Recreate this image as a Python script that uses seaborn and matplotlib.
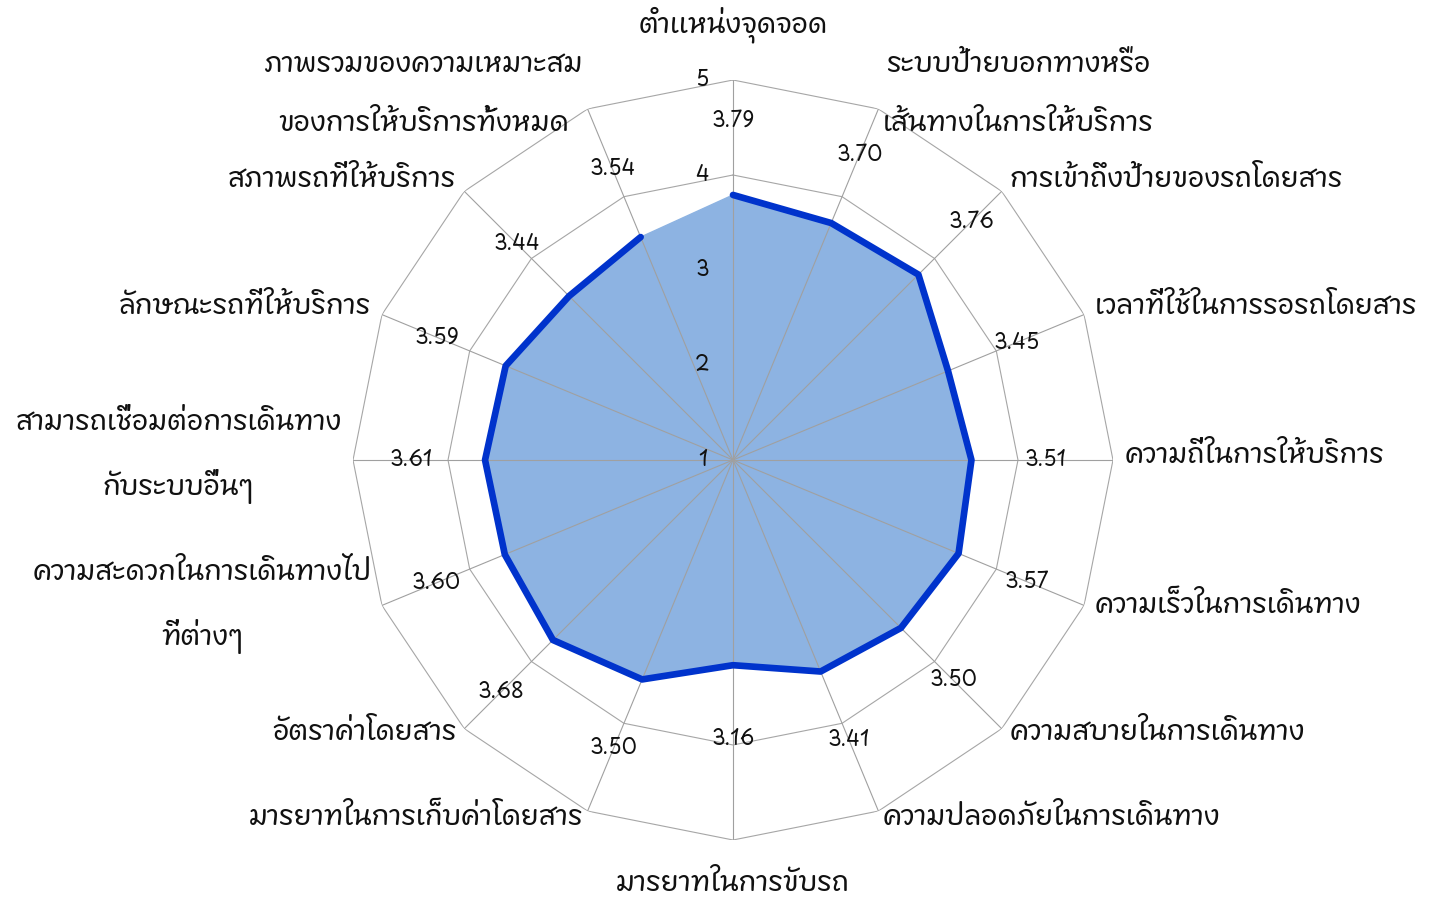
import numpy as np
import matplotlib
matplotlib.use("Agg")
import matplotlib.pyplot as plt
from matplotlib import font_manager
from matplotlib.ft2font import FT2Font
import seaborn as sns

categories = [
    "ตำแหน่งจุดจอด",
    "ระบบป้ายบอกทางหรือ\nเส้นทางในการให้บริการ",
    "การเข้าถึงป้ายของรถโดยสาร",
    "เวลาที่ใช้ในการรอรถโดยสาร",
    "ความถี่ในการให้บริการ",
    "ความเร็วในการเดินทาง",
    "ความสบายในการเดินทาง",
    "ความปลอดภัยในการเดินทาง",
    "มารยาทในการขับรถ",
    "มารยาทในการเก็บค่าโดยสาร",
    "อัตราค่าโดยสาร",
    "ความสะดวกในการเดินทางไป\nที่ต่างๆ",
    "สามารถเชื่อมต่อการเดินทาง\nกับระบบอื่นๆ",
    "ลักษณะรถที่ให้บริการ",
    "สภาพรถที่ให้บริการ",
    "ภาพรวมของความเหมาะสม\nของการให้บริการทั้งหมด",
]
scores = [3.79, 3.70, 3.76, 3.45, 3.51, 3.57, 3.50, 3.41,
          3.16, 3.50, 3.68, 3.60, 3.61, 3.59, 3.44, 3.54]
rticks = [1, 2, 3, 4, 5]

# find a font that has thai glyphs
thai_font = None
for f in font_manager.fontManager.ttflist:
    try:
        if 0x0E01 in FT2Font(f.fname).get_charmap():
            if thai_font is None or "Thai" in f.name:
                thai_font = f.name
    except Exception:
        pass

sns.set_style("white")
fams = ([thai_font] if thai_font else []) + ["DejaVu Sans"]
plt.rcParams["font.family"] = fams

n = len(categories)
angles = np.arange(n) * 2 * np.pi / n
closed_a = np.append(angles, angles[0])
closed_v = np.append(scores, scores[0])

fig = plt.figure(figsize=(14.29, 9.01), dpi=100)
ax = fig.add_axes([353 / 1429, 61 / 901, 760 / 1429, 760 / 901], projection="polar")
ax.set_theta_offset(np.pi / 2)
ax.set_theta_direction(-1)
ax.set_ylim(1, 5)
ax.grid(False)
ax.spines["polar"].set_visible(False)
ax.set_xticks([])
ax.set_yticks([])

# polygon rings sit under the fill, spokes on top
for r in rticks[1:]:
    ax.plot(closed_a, [r] * (n + 1), color="#A6A6A6", lw=0.8, zorder=0.5)

ax.fill(closed_a, closed_v, color="#8DB3E2", zorder=1)

for a in angles:
    ax.plot([a, a], [1, 5], color="#A0A0A0", lw=0.8, zorder=2)

sns.lineplot(x=closed_a, y=closed_v, sort=False, color="#0033CC", lw=4.8,
             ax=ax, zorder=3)

for r in rticks:
    ax.annotate(str(r), (0, r), xytext=(-22, 0), textcoords="offset points",
                ha="center", va="center", fontsize=15, color="#111111")

for a, v in zip(angles, scores):
    ax.text(a, v + 0.78, f"{v:.2f}", ha="center", va="center",
            fontsize=15, color="#111111")

for a, lab in zip(angles, categories):
    s = np.sin(a)
    c = np.cos(a)
    if abs(s) < 0.1:
        ha = "center"
        rl = 5.54 if c > 0 else 5.5
    else:
        ha = "left" if s > 0 else "right"
        rl = 5.12
    ax.annotate(lab, (a, rl), xytext=(0, 3), textcoords="offset points",
                ha=ha, va="center", multialignment="center",
                fontsize=20, linespacing=2.2, color="#111111",
                annotation_clip=False)

fig.savefig("out.png", dpi=100, facecolor="white")
